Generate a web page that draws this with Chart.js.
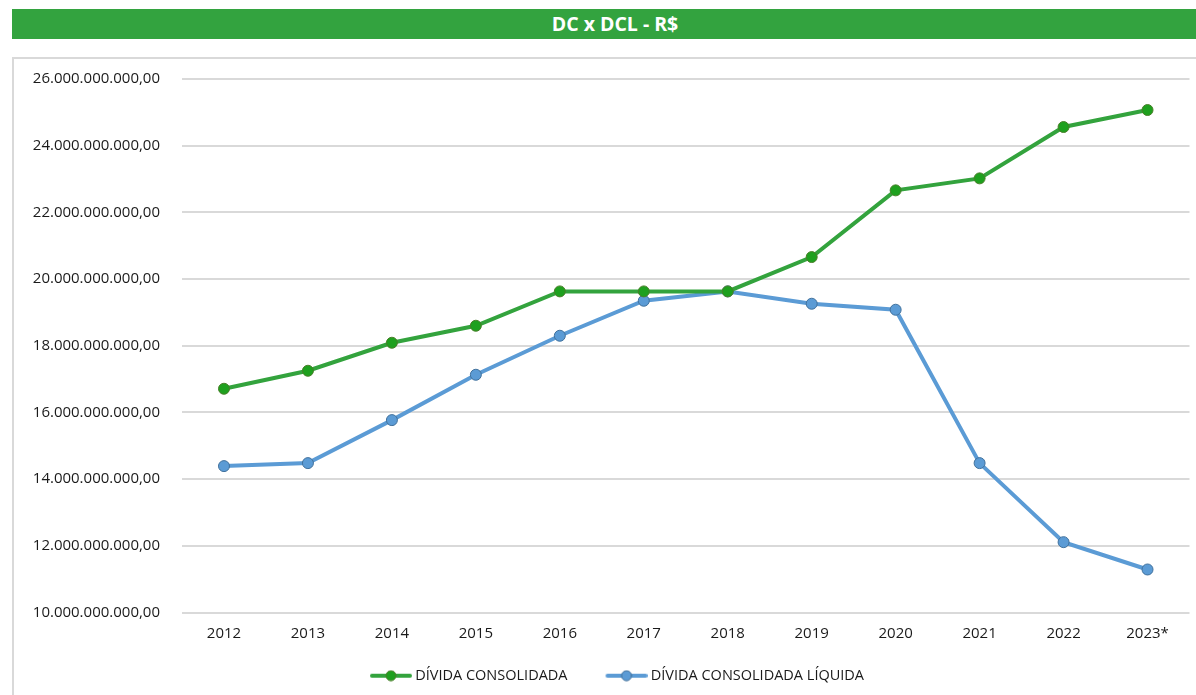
<!DOCTYPE html>
<html>
<head>
<meta charset="utf-8">
<script src="https://cdn.jsdelivr.net/npm/chart.js@4"></script>
<style>
  body { margin: 0; background: #fff; width: 1196px; height: 695px; overflow: hidden; position: relative; font-family: "Open Sans", sans-serif; }
  .title { position: absolute; left: 12px; top: 9px; width: 1184px; height: 30px; background: #33a33f; color: #fff; font-weight: bold; font-size: 19.5px; line-height: 30px; text-align: center; padding-left: 22px; box-sizing: border-box; }
  .box { position: absolute; left: 12px; top: 57px; width: 1200px; height: 660px; border: 2px solid #d9d9d9; box-sizing: border-box; }
  .wrap { position: absolute; left: 14px; top: 59px; width: 1182px; height: 636px; }
</style>
</head>
<body>
<div class="title">DC x DCL - R$</div>
<div class="box"></div>
<div class="wrap"><canvas id="myChart"></canvas></div>
<script>
const years = ['2012', '2013', '2014', '2015', '2016', '2017', '2018', '2019', '2020', '2021', '2022', '2023*']
const dividaConsolidada = [16.71e9, 17.25e9, 18.09e9, 18.6e9, 19.63e9, 19.63e9, 19.63e9, 20.66e9, 22.66e9, 23.02e9, 24.56e9, 25.07e9]
const dividaLiquida = [14.39e9, 14.48e9, 15.77e9, 17.13e9, 18.3e9, 19.35e9, 19.63e9, 19.26e9, 19.08e9, 14.48e9, 12.11e9, 11.29e9]
const yMin = 10e9
const yMax = 26e9
const yStep = 2e9

const colors = {
  green: { line: '#33a33d', point: '#1ea01e', border: '#4a7f2a' },
  blue: { line: '#5b9bd5', point: '#5b9bd5', border: '#41719c' }
}

// legend marker: short line with a dot, with blank lead-in for item spacing
const legendMarker = (c) => {
  const cv = document.createElement('canvas')
  cv.width = 70
  cv.height = 12
  const g = cv.getContext('2d')
  g.strokeStyle = c.line
  g.lineWidth = 4
  g.lineCap = 'round'
  g.beginPath()
  g.moveTo(30, 6)
  g.lineTo(68, 6)
  g.stroke()
  g.beginPath()
  g.arc(49, 6, 5, 0, Math.PI * 2)
  g.fillStyle = c.point
  g.fill()
  g.lineWidth = 1
  g.strokeStyle = c.border
  g.stroke()
  return cv
}

const fmt = (v) => {
  const s = Math.round(v).toString().replace(/\B(?=(\d{3})+(?!\d))/g, '.')
  return s + ',00'
}

const makeSet = (label, data, c) => ({
  label: label,
  data: data,
  borderColor: c.line,
  backgroundColor: c.point,
  pointBackgroundColor: c.point,
  pointBorderColor: c.border,
  pointBorderWidth: 1,
  pointRadius: 5.5,
  borderWidth: 4,
  tension: 0,
  fill: false,
  pointStyle: 'circle'
})

const markers = [legendMarker(colors.green), legendMarker(colors.blue)]
const tickFont = { family: 'Open Sans', size: 15 }

new Chart(document.getElementById('myChart'), {
  type: 'line',
  data: {
    labels: years,
    datasets: [
      makeSet('DÍVIDA CONSOLIDADA', dividaConsolidada, colors.green),
      makeSet('DÍVIDA CONSOLIDADA LÍQUIDA', dividaLiquida, colors.blue)
    ]
  },
  options: {
    responsive: true,
    maintainAspectRatio: false,
    animation: false,
    layout: { padding: { top: 20, right: 0, left: 0, bottom: 2 } },
    plugins: {
      tooltip: { enabled: false },
      legend: {
        display: true,
        position: 'bottom',
        labels: {
          color: '#1a1a1a',
          font: { family: 'Open Sans', size: 14.5 },
          usePointStyle: true,
          pointStyleWidth: 62,
          boxHeight: 12,
          padding: 14,
          generateLabels: (chart) => chart.data.datasets.map((ds, i) => ({
            text: ds.label,
            fontColor: '#1a1a1a',
            pointStyle: markers[i],
            datasetIndex: i,
            hidden: false,
            lineWidth: 0
          }))
        }
      }
    },
    scales: {
      x: {
        offset: true,
        grid: { display: false, drawTicks: false },
        border: { display: false },
        ticks: { color: '#1a1a1a', font: tickFont, padding: 12 }
      },
      y: {
        min: yMin,
        max: yMax,
        afterFit: (scale) => {
          scale.width = 168
          scale.paddingTop = 0
          scale.paddingBottom = 0
        },
        grid: { color: '#d9d9d9', lineWidth: 2, drawTicks: false },
        border: { display: false },
        ticks: {
          stepSize: yStep,
          color: '#1a1a1a',
          font: tickFont,
          padding: 22,
          callback: (v) => fmt(v)
        }
      }
    }
  }
})
</script>
</body>
</html>
